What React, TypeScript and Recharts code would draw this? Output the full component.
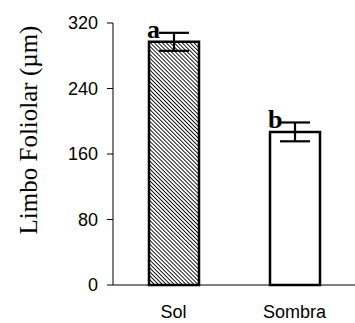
import React from "react";
import { BarChart, Bar, XAxis, YAxis, ErrorBar, Cell, LabelList, Label } from "recharts";

const categories = ["Sol", "Sombra"];
const means = [297, 187];
const errors = [11, 11.5];
const letters = ["a", "b"];
const yTicks = [0, 80, 160, 240, 320];

const data = categories.map((name, i) => ({
  x: i + 0.5,
  name,
  value: means[i],
  err: errors[i],
  letter: letters[i],
}));

const sans = "'Liberation Sans', Arial, sans-serif";
const serif = "'Liberation Serif', 'Times New Roman', serif";

const LetterLabel = (props: any) => {
  const { x, y, value } = props;
  return (
    <text x={x - 2} y={y - 4} fontFamily={serif} fontWeight="bold" fontSize={26} fill="#000">
      {value}
    </text>
  );
};

export default function App() {
  return (
    <div style={{ position: "absolute", left: 0, top: 0 }}>
      <BarChart width={355} height={323} data={data} margin={{ top: 23, right: 0, left: 0, bottom: 0 }}>
        <defs>
          <pattern id="hatch" patternUnits="userSpaceOnUse" width={2.8} height={2.8} patternTransform="rotate(-45)">
            <rect width={2.8} height={2.8} fill="#fff" />
            <line x1={0} y1={0} x2={0} y2={2.8} stroke="#000" strokeWidth={1.8} />
          </pattern>
        </defs>
        <XAxis
          xAxisId="b"
          type="number"
          dataKey="x"
          domain={[0, 2]}
          ticks={[0, 1, 2]}
          tick={false}
          tickSize={7}
          height={8}
          stroke="#000"
        />
        <XAxis
          xAxisId="l"
          type="number"
          dataKey="x"
          domain={[0, 2]}
          ticks={[0.5, 1.5]}
          tickFormatter={(v: number) => categories[Math.floor(v)]}
          axisLine={false}
          tickLine={false}
          tickSize={6}
          tickMargin={6}
          height={30}
          tick={{ fontFamily: sans, fontSize: 18, fill: "#000" }}
        />
        <YAxis
          type="number"
          domain={[0, 320]}
          ticks={yTicks}
          width={113}
          stroke="#000"
          tickSize={6}
          tickMargin={9}
          tick={{ fontFamily: sans, fontSize: 18, fill: "#000" }}
        >
          <Label
            content={() => (
              <text
                x={28}
                y={130}
                transform="rotate(-90, 28, 130)"
                textAnchor="middle"
                dominantBaseline="central"
                fontFamily={serif}
                fontSize={25}
                fill="#000"
              >
                Limbo Foliolar (µm)
              </text>
            )}
          />
        </YAxis>
        <Bar xAxisId="b" dataKey="value" barSize={50} stroke="#000" strokeWidth={2.5} isAnimationActive={false}>
          {data.map((d, i) => (
            <Cell key={d.name} fill={i === 0 ? "url(#hatch)" : "#fff"} />
          ))}
          <ErrorBar dataKey="err" width={15} stroke="#000" strokeWidth={2.2} direction="y" />
          <LabelList dataKey="letter" content={LetterLabel} />
        </Bar>
      </BarChart>
    </div>
  );
}
